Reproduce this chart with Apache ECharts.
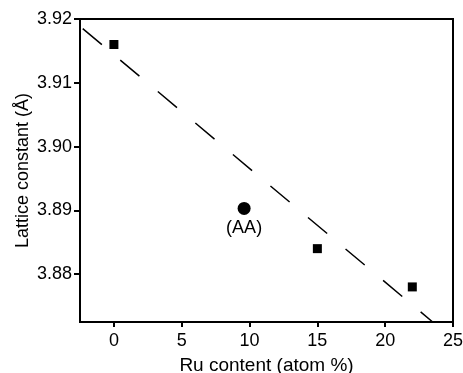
<!DOCTYPE html>
<html>
<head>
<meta charset="utf-8">
<script src="https://cdn.jsdelivr.net/npm/echarts@6/dist/echarts.min.js"></script>
<style>
  html, body { margin: 0; padding: 0; background: #fff; }
  #chart { width: 463px; height: 373px; }
</style>
</head>
<body>
<div id="chart"></div>
<script>
// measured samples
const ruContent = [0, 15, 22]
const latticeConst = [3.916, 3.884, 3.878]

// the AA sample
const aaPoint = [9.6, 3.8903]
const aaLabel = "(AA)"

// dashed trend line (end points)
const fitX = [-2.3, 23.5]
const fitY = [3.9185, 3.8725]

const xTicks = [0, 5, 10, 15, 20, 25]
const yTicks = [3.88, 3.89, 3.90, 3.91, 3.92]

const font = "'Liberation Sans', Arial, sans-serif"

const chart = echarts.init(document.getElementById("chart"))

chart.setOption({
  backgroundColor: "#fff",
  animation: false,
  textStyle: { fontFamily: font },
  grid: {
    left: 80, right: 10, top: 19, bottom: 51,
    outerBoundsMode: "none",
    show: true, borderColor: "#000", borderWidth: 2, backgroundColor: "transparent"
  },
  xAxis: {
    type: "value",
    min: -2.5, max: 25,
    name: "Ru content (atom %)",
    nameLocation: "middle",
    nameGap: 34,
    nameMoveOverlap: false,
    nameTextStyle: { fontSize: 19, color: "#000", fontFamily: font },
    axisLine: { show: true, onZero: false, lineStyle: { color: "#000", width: 2 } },
    axisTick: { show: true, customValues: xTicks, length: 5, lineStyle: { color: "#000", width: 2 } },
    axisLabel: { customValues: xTicks, fontSize: 18, color: "#000", margin: 10, fontFamily: font },
    splitLine: { show: false }
  },
  yAxis: {
    type: "value",
    min: 3.8725, max: 3.92,
    name: "Lattice constant (\u00c5)",
    nameLocation: "middle",
    nameGap: 48,
    nameMoveOverlap: false,
    nameTextStyle: { fontSize: 18, color: "#000", fontFamily: font },
    axisLine: { show: true, onZero: false, lineStyle: { color: "#000", width: 2 } },
    axisTick: { show: true, customValues: yTicks, length: 6, lineStyle: { color: "#000", width: 2 } },
    axisLabel: {
      customValues: yTicks, fontSize: 18, color: "#000", margin: 8, fontFamily: font,
      formatter: v => v.toFixed(2)
    },
    splitLine: { show: false }
  },
  series: [
    {
      type: "line",
      data: fitX.map((x, i) => [x, fitY[i]]),
      symbol: "none",
      lineStyle: { color: "#000", width: 1.5, type: [25, 24] },
      z: 1
    },
    {
      type: "scatter",
      data: ruContent.map((x, i) => [x, latticeConst[i]]),
      symbol: "rect",
      symbolSize: 9,
      itemStyle: { color: "#000", opacity: 1 },
      z: 2
    },
    {
      type: "scatter",
      data: [aaPoint],
      symbol: "circle",
      symbolSize: 13,
      itemStyle: { color: "#000", opacity: 1 },
      label: {
        show: true, position: "bottom", distance: 4,
        formatter: aaLabel, fontSize: 18, color: "#000", fontFamily: font
      },
      z: 2
    }
  ]
})
</script>
</body>
</html>
